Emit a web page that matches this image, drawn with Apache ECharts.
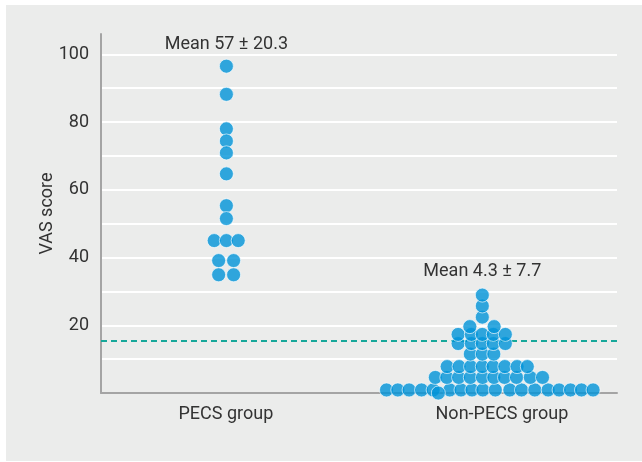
<!DOCTYPE html>
<html>
<head>
<meta charset="utf-8">
<script src="https://cdn.jsdelivr.net/npm/echarts@6/dist/echarts.min.js"></script>
<style>
  html, body { margin: 0; padding: 0; background: #ffffff; }
  #wrap { position: relative; width: 642px; height: 462px; background: #ffffff; }
  #panel { position: absolute; left: 6px; top: 5px; width: 636px; height: 456px; background: #ebeceb; }
  #chart { position: absolute; left: 0; top: 0; width: 642px; height: 462px; }
</style>
</head>
<body>
<div id="wrap"><div id="panel"></div><div id="chart"></div></div>
<script>
// ---- data ----
var groups = ['PECS group', 'Non-PECS group'];
var groupCenters = [24.3, 73.9];          // x position of each swarm column (0-100 axis)
var groupLabelPos = [24.2, 77.7];         // x position of the category labels
var meanLabels = ['Mean 57 \u00b1 20.3', 'Mean 4.3 \u00b1 7.7'];
var meanLabelY = [103, 36];
var threshold = 15.4;                     // dashed reference line (VAS score)
var yTickLabels = [20, 40, 60, 80, 100];

// PECS group: VAS score of each dot and its horizontal swarm offset
var pecsValues  = [96.5, 88.2, 78, 74.4, 70.9, 64.7, 55.3, 51.5, 45, 45, 45, 39.1, 39.1, 34.9, 34.9];
var pecsOffsets = [0, 0, 0, 0, 0, 0, 0, 0, -2.36, 0, 2.29, -1.5, 1.4, -1.5, 1.4];

// Non-PECS group
var nonValues = [
  0.9, 0.9, 0.9, 0.9, 0.9, 0.9, 0.9, 0.9, 0.9, 0.9, 0.9, 0.9, 0.9, 0.9, 0.9, 0.9, 0.9, 0.9, 0,
  4.6, 4.6, 4.6, 4.6, 4.6, 4.6, 4.6, 4.6, 4.6, 4.6,
  7.8, 7.8, 7.8, 7.8, 7.8, 7.8, 7.8, 7.8,
  11.5, 11.5, 11.5,
  14.6, 14.6, 14.6, 14.6, 14.6,
  17.3, 17.3, 17.3, 17.3, 17.3,
  19.6, 19.6,
  22.4, 25.7, 28.9
];
var nonOffsets = [
  -18.57, -16.38, -14.19, -11.78, -9.53, -6.30, -4.13, -2.00, 0.10, 2.52, 5.33, 7.60, 10.17, 12.75, 14.88, 17.09, 19.22, 21.47, -8.53,
  -9.11, -6.88, -4.59, -2.33, 0.04, 2.23, 4.30, 6.63, 9.30, 11.67,
  -6.82, -4.50, -2.27, 0, 2.09, 4.36, 6.74, 8.72,
  -2.33, 0, 2.23,
  -4.69, -2.13, 0, 2.13, 4.46,
  -4.69, -2.13, 0, 2.13, 4.46,
  -2.42, 2.29,
  0, 0, 0
];

// ---- chart ----
var FONT = 'Roboto';
var TEXT = '#333333';
var DOT = '#0094d8';

function build(values, offsets, center) {
  return values.map(function (v, i) { return [center + offsets[i], v]; });
}

var chart = echarts.init(document.getElementById('chart'), null, { renderer: 'canvas' });
chart.setOption({
  backgroundColor: 'transparent',
  animation: false,
  textStyle: { fontFamily: FONT },
  grid: { left: 101, right: 25, top: 34, bottom: 69, containLabel: false },
  xAxis: {
    type: 'value', min: 0, max: 100,
    axisLine: { show: true, lineStyle: { color: '#a4a4a4', width: 2 } },
    axisTick: { show: false },
    splitLine: { show: false },
    axisLabel: {
      customValues: groupLabelPos,
      margin: 12,
      fontSize: 18, color: TEXT, fontFamily: FONT,
      formatter: function (v) {
        var best = 0, d = Infinity;
        groupLabelPos.forEach(function (p, i) { if (Math.abs(p - v) < d) { d = Math.abs(p - v); best = i; } });
        return groups[best];
      }
    }
  },
  yAxis: {
    type: 'value', min: 0, max: 106, interval: 10,
    name: 'VAS score', nameLocation: 'middle', nameGap: 45, nameMoveOverlap: false,
    nameTextStyle: { fontSize: 18, color: TEXT, fontFamily: FONT },
    axisLine: { show: true, lineStyle: { color: '#a4a4a4', width: 2 } },
    axisTick: { show: false },
    axisLabel: {
      margin: 12, fontSize: 18, color: TEXT, fontFamily: FONT,
      formatter: function (v) { return yTickLabels.indexOf(v) >= 0 ? String(v) : ''; }
    },
    splitLine: { show: true, showMinLine: false, showMaxLine: false, lineStyle: { color: '#ffffff', width: 2 } }
  },
  series: [
    {
      name: groups[0], type: 'scatter', symbol: 'circle', symbolSize: 14,
      itemStyle: { color: DOT, borderColor: '#ffffff', borderWidth: 0.8 },
      data: build(pecsValues, pecsOffsets, groupCenters[0]),
      markPoint: {
        symbol: 'circle', symbolSize: 0,
        label: { show: true, position: 'inside', fontSize: 18, color: TEXT, fontFamily: FONT },
        data: [{ coord: [groupCenters[0], meanLabelY[0]], value: meanLabels[0], label: { formatter: meanLabels[0] } }]
      }
    },
    {
      name: groups[1], type: 'scatter', symbol: 'circle', symbolSize: 14,
      itemStyle: { color: DOT, borderColor: '#ffffff', borderWidth: 0.8 },
      data: build(nonValues, nonOffsets, groupCenters[1]),
      markPoint: {
        symbol: 'circle', symbolSize: 0,
        label: { show: true, position: 'inside', fontSize: 18, color: TEXT, fontFamily: FONT },
        data: [{ coord: [groupCenters[1], meanLabelY[1]], value: meanLabels[1], label: { formatter: meanLabels[1] } }]
      },
      markLine: {
        silent: true, symbol: 'none', z: 1,
        label: { show: false },
        lineStyle: { color: '#16a89a', type: [6, 4], width: 2 },
        data: [{ yAxis: threshold }]
      }
    }
  ]
});
</script>
</body>
</html>
